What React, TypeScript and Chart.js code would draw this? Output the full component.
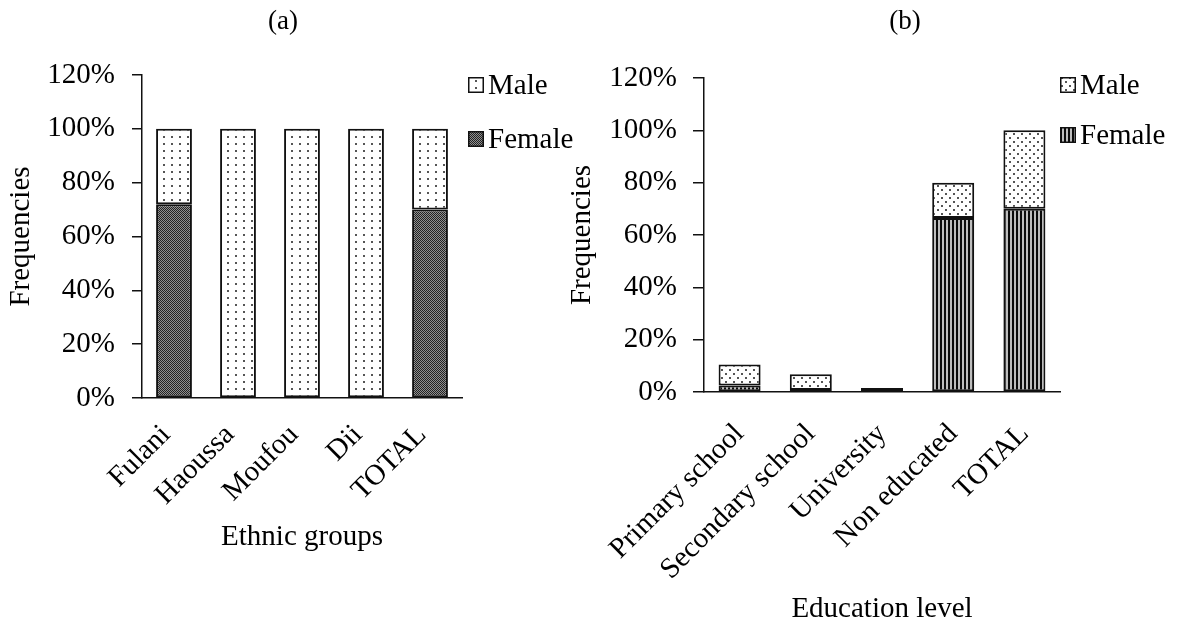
import React, { useEffect, useRef } from 'react';
import { Chart, registerables } from 'chart.js';

Chart.register(...registerables);

const FONT = "'Liberation Serif', 'Times New Roman', Times, serif";
const TEXT_SIZE = 29;

// ---- Data (a) ----
const ethnicGroups = ['Fulani', 'Haoussa', 'Moufou', 'Dii', 'TOTAL'];
const ethnicFemale = [72, 0, 0, 0, 70];
const ethnicMale = [28, 100, 100, 100, 30];

// ---- Data (b) ----
const educationLevels = ['Primary school', 'Secondary school', 'University', 'Non educated', 'TOTAL'];
const educationFemale = [2.5, 0.8, 0, 66.5, 70];
const educationMale = [8, 6, 1.5, 13.5, 30];

const yTickValues = [0, 20, 40, 60, 80, 100, 120];

type PatternKind = 'dotsGrid' | 'dotsStagger' | 'checker' | 'stripes';

function makePattern(kind: PatternKind): CanvasPattern | string {
  const c = document.createElement('canvas');
  const ctx = c.getContext('2d');
  if (!ctx) return '#888';
  if (kind === 'dotsGrid') {
    c.width = 8; c.height = 7;
    ctx.fillStyle = '#fff'; ctx.fillRect(0, 0, 8, 7);
    ctx.fillStyle = '#555'; ctx.fillRect(3, 3, 2, 2);
  } else if (kind === 'dotsStagger') {
    c.width = 8; c.height = 8;
    ctx.fillStyle = '#fff'; ctx.fillRect(0, 0, 8, 8);
    ctx.fillStyle = '#555';
    ctx.fillRect(1, 1, 2, 2);
    ctx.fillRect(5, 5, 2, 2);
  } else if (kind === 'checker') {
    c.width = 2; c.height = 2;
    ctx.fillStyle = '#8f8f8f'; ctx.fillRect(0, 0, 2, 2);
    ctx.fillStyle = '#222';
    ctx.fillRect(0, 0, 1, 1);
    ctx.fillRect(1, 1, 1, 1);
  } else {
    c.width = 4; c.height = 4;
    ctx.fillStyle = '#bdbdbd'; ctx.fillRect(0, 0, 4, 4);
    ctx.fillStyle = '#0a0a0a'; ctx.fillRect(0, 0, 2, 4);
  }
  const p = ctx.createPattern(c, 'repeat');
  return p || '#888';
}

const decorPlugin = {
  id: 'decor',
  afterDraw(chart: any, _args: any, opts: any) {
    const { ctx, chartArea } = chart;
    ctx.save();
    ctx.fillStyle = '#000';
    ctx.textBaseline = 'middle';
    ctx.textAlign = 'center';
    ctx.font = `${opts.titleSize}px ${FONT}`;
    ctx.fillText(opts.title, opts.titleX, opts.titleY);

    const ds = [...chart.data.datasets].reverse();
    ds.forEach((d: any, i: number) => {
      const x = chartArea.right + opts.legendDx;
      const y = opts.legendY[i];
      const s = 16;
      ctx.fillStyle = d.backgroundColor;
      ctx.fillRect(x, y - s / 2, s, s);
      ctx.strokeStyle = '#111';
      ctx.lineWidth = 1.5;
      ctx.strokeRect(x + 0.75, y - s / 2 + 0.75, s - 1.5, s - 1.5);
      ctx.fillStyle = '#000';
      ctx.textAlign = 'left';
      ctx.font = `${TEXT_SIZE}px ${FONT}`;
      ctx.fillText(d.label, x + s + 4, y + 1);
    });
    ctx.restore();
  },
};

interface Spec {
  labels: string[];
  female: number[];
  male: number[];
  femaleKind: PatternKind;
  maleKind: PatternKind;
  xTitle: string;
  title: string;
  titleX: number;
  canvasLeft: number;
  width: number;
  padTop: number;
  padRight: number;
  yWidth: number;
  xHeight: number;
  yTickLen: number;
  yTickPad: number;
  yTitlePad: number;
  xTitlePad: number;
  xTickPad: number;
  xLabelOffset: number;
  barPct: number;
  legendDx: number;
  legendY: number[];
}

function PatternBarChart({ spec }: { spec: Spec }) {
  const ref = useRef<HTMLCanvasElement | null>(null);
  useEffect(() => {
    if (!ref.current) return;
    const femaleFill = makePattern(spec.femaleKind);
    const maleFill = makePattern(spec.maleKind);
    const font = { family: FONT, size: TEXT_SIZE };
    const chart = new Chart(ref.current, {
      type: 'bar',
      data: {
        labels: spec.labels,
        datasets: [
          {
            label: 'Female',
            data: spec.female,
            backgroundColor: femaleFill as any,
            borderColor: '#111',
            borderWidth: 2,
            borderSkipped: false,
            barPercentage: spec.barPct,
            categoryPercentage: 1,
          },
          {
            label: 'Male',
            data: spec.male,
            backgroundColor: maleFill as any,
            borderColor: '#111',
            borderWidth: 2,
            borderSkipped: false,
            barPercentage: spec.barPct,
            categoryPercentage: 1,
          },
        ],
      },
      options: {
        responsive: false,
        animation: false,
        layout: { padding: { left: 0, right: spec.padRight, top: spec.padTop, bottom: 0 } },
        plugins: {
          legend: { display: false },
          tooltip: { enabled: false },
          title: { display: false },
          decor: {
            title: spec.title,
            titleX: spec.titleX,
            titleY: 22,
            titleSize: 27,
            legendDx: spec.legendDx,
            legendY: spec.legendY,
          },
        } as any,
        scales: {
          x: {
            stacked: true,
            grid: { display: false, drawTicks: false },
            border: { display: true, color: '#111', width: 1.5 },
            ticks: {
              color: '#000',
              font,
              autoSkip: false,
              maxRotation: 45,
              minRotation: 45,
              padding: spec.xTickPad,
              labelOffset: spec.xLabelOffset,
            },
            title: {
              display: true,
              text: spec.xTitle,
              color: '#000',
              font,
              padding: { top: 0, bottom: spec.xTitlePad },
            },
            afterFit(scale: any) {
              scale.height = spec.xHeight;
            },
          },
          y: {
            stacked: true,
            min: yTickValues[0],
            max: yTickValues[yTickValues.length - 1],
            grid: {
              drawOnChartArea: false,
              drawTicks: true,
              tickLength: spec.yTickLen,
              color: '#111',
              lineWidth: 1.5,
            },
            border: { display: true, color: '#111', width: 1.5 },
            ticks: {
              stepSize: 20,
              color: '#000',
              font,
              padding: spec.yTickPad,
              callback: (v: any) => `${v}%`,
            },
            title: {
              display: true,
              text: 'Frequencies',
              color: '#000',
              font,
              padding: { top: spec.yTitlePad, bottom: 0 },
            },
            afterFit(scale: any) {
              scale.width = spec.yWidth;
            },
          },
        },
      },
      plugins: [decorPlugin as any],
    });
    return () => chart.destroy();
  }, []);
  return (
    <canvas
      ref={ref}
      width={spec.width}
      height={629}
      style={{ position: 'absolute', left: spec.canvasLeft, top: 0, width: spec.width, height: 629 }}
    />
  );
}

const specA: Spec = {
  labels: ethnicGroups,
  female: ethnicFemale,
  male: ethnicMale,
  femaleKind: 'checker',
  maleKind: 'dotsGrid',
  xTitle: 'Ethnic groups',
  title: '(a)',
  titleX: 283,
  canvasLeft: 0,
  width: 590,
  padTop: 75,
  padRight: 128,
  yWidth: 142,
  xHeight: 231,
  yTickLen: 10,
  yTickPad: 17,
  yTitlePad: 4,
  xTitlePad: 74,
  xTickPad: 20,
  xLabelOffset: -8,
  barPct: 0.56,
  legendDx: 6,
  legendY: [85, 139],
};

const specB: Spec = {
  labels: educationLevels,
  female: educationFemale,
  male: educationMale,
  femaleKind: 'stripes',
  maleKind: 'dotsStagger',
  xTitle: 'Education level',
  title: '(b)',
  titleX: 345,
  canvasLeft: 560,
  width: 620,
  padTop: 78,
  padRight: 120,
  yWidth: 144,
  xHeight: 237,
  yTickLen: 11,
  yTickPad: 16,
  yTitlePad: 5,
  xTitlePad: 2,
  xTickPad: 25,
  xLabelOffset: 0,
  barPct: 0.59,
  legendDx: 0,
  legendY: [85, 135],
};

export default function App() {
  return (
    <div style={{ position: 'absolute', left: 0, top: 0, width: 1180, height: 629, background: '#fff', overflow: 'hidden' }}>
      <PatternBarChart spec={specA} />
      <PatternBarChart spec={specB} />
    </div>
  );
}
